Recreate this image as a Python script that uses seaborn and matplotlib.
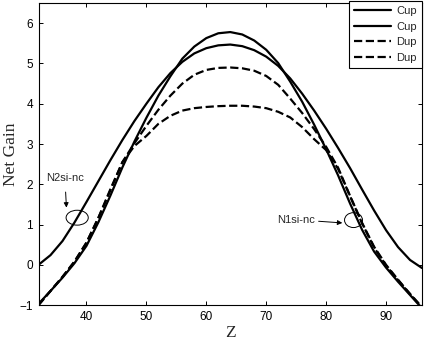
import matplotlib
matplotlib.use("Agg")
import matplotlib.pyplot as plt
from matplotlib.patches import Ellipse
import seaborn as sns
import pandas as pd

# ---- data ----
z = [32, 34, 36, 38, 40, 42, 44, 46, 48, 50, 52, 54, 56, 58, 60, 62, 64,
     66, 68, 70, 72, 74, 76, 78, 80, 82, 84, 86, 88, 90, 92, 94, 96]

cup1 = [-0.97, -0.65, -0.32, 0.04, 0.47, 1.06, 1.72, 2.42, 3.06, 3.65, 4.20,
        4.68, 5.12, 5.42, 5.63, 5.75, 5.78, 5.72, 5.57, 5.34, 5.01, 4.55,
        4.05, 3.48, 2.87, 2.22, 1.52, 0.87, 0.33, -0.07, -0.42, -0.75, -1.08]

cup2 = [0.00, 0.24, 0.59, 1.05, 1.56, 2.08, 2.60, 3.10, 3.57, 4.00, 4.41,
        4.76, 5.04, 5.25, 5.38, 5.45, 5.47, 5.43, 5.33, 5.17, 4.94, 4.63,
        4.25, 3.83, 3.38, 2.90, 2.40, 1.87, 1.35, 0.86, 0.44, 0.12, -0.08]

dup1 = [-1.00, -0.65, -0.30, 0.08, 0.55, 1.17, 1.85, 2.55, 3.02, 3.45, 3.85,
        4.20, 4.50, 4.72, 4.84, 4.89, 4.90, 4.88, 4.82, 4.69, 4.47, 4.13,
        3.77, 3.37, 2.93, 2.41, 1.71, 1.04, 0.45, 0.00, -0.37, -0.72, -1.05]

dup2 = [-1.00, -0.65, -0.30, 0.08, 0.55, 1.17, 1.88, 2.55, 2.95, 3.20, 3.50,
        3.70, 3.83, 3.89, 3.92, 3.94, 3.95, 3.95, 3.93, 3.89, 3.80, 3.66,
        3.42, 3.12, 2.85, 2.38, 1.70, 1.03, 0.43, -0.02, -0.38, -0.73, -1.06]

series_labels = ["Cup", "Cup", "Dup", "Dup"]
x_ticks = [40, 50, 60, 70, 80, 90]
y_ticks = [-1, 0, 1, 2, 3, 4, 5, 6]

# ---- plot ----
sns.set_style("ticks")
plt.rcParams["font.family"] = ["Liberation Sans", "DejaVu Sans"]

fig = plt.figure(figsize=(4.28, 3.42), dpi=100)
ax = fig.add_axes([0.09, 0.108, 0.896, 0.883])

df = pd.DataFrame({"z": z, "cup1": cup1, "cup2": cup2, "dup1": dup1, "dup2": dup2})
lw = 1.6
sns.lineplot(data=df, x="z", y="cup1", ax=ax, color="black", lw=lw, label=series_labels[0])
sns.lineplot(data=df, x="z", y="cup2", ax=ax, color="black", lw=lw, label=series_labels[1])
sns.lineplot(data=df, x="z", y="dup1", ax=ax, color="black", lw=lw, linestyle="--", label=series_labels[2])
sns.lineplot(data=df, x="z", y="dup2", ax=ax, color="black", lw=lw, linestyle="--", label=series_labels[3])

ax.set_xlim(32, 96)
ax.set_ylim(-1, 6.5)
ax.set_xticks(x_ticks)
ax.set_yticks(y_ticks)
ax.tick_params(direction="in", top=True, right=True, length=3, width=0.7,
               labelsize=8.5, colors="black", pad=4)
for sp in ax.spines.values():
    sp.set_color("black")
    sp.set_linewidth(0.8)

ax.set_xlabel("Z", family="Liberation Serif", fontsize=12.5)
ax.xaxis.set_label_coords(0.5, -0.066)
ax.set_ylabel("Net Gain", family="Liberation Serif", fontsize=12.5)
ax.yaxis.set_label_coords(-0.05, 0.5)

leg = ax.legend(loc="upper right", bbox_to_anchor=(1.0, 1.006), borderaxespad=0,
                fancybox=False, framealpha=1, edgecolor="black", fontsize=8,
                handlelength=3.4, handletextpad=0.45, labelspacing=0.5,
                borderpad=0.45)
leg.get_frame().set_linewidth(0.8)

# annotations
ax.add_patch(Ellipse((38.45, 1.17), width=3.7, height=0.37, fill=False,
                     edgecolor="black", lw=0.7))
ax.annotate("N2si-nc", xy=(36.66, 1.42), xytext=(36.4, 2.15),
            ha="center", va="center", fontsize=8,
            arrowprops=dict(arrowstyle="-|>", color="black", lw=0.7,
                            mutation_scale=7, shrinkA=4, shrinkB=0))
ax.add_patch(Ellipse((84.57, 1.11), width=3.0, height=0.37, fill=False,
                     edgecolor="black", lw=0.7))
ax.annotate("N1si-nc", xy=(82.7, 1.04), xytext=(78.2, 1.12),
            ha="right", va="center", fontsize=8,
            arrowprops=dict(arrowstyle="-|>", color="black", lw=0.7,
                            mutation_scale=7, shrinkA=0, shrinkB=0))

fig.savefig("out.png", dpi=100)
